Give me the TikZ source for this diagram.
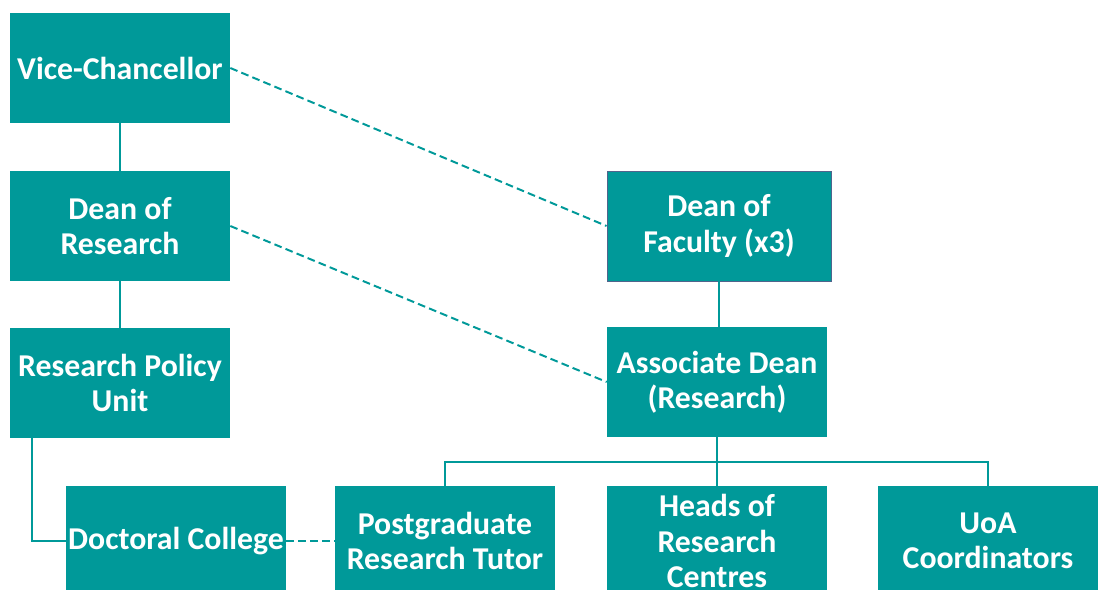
\documentclass[tikz,border=0pt]{standalone}
\usepackage{fontspec}
\setmainfont{Carlito}
\usepackage{tikz}
\usetikzlibrary{arrows,positioning,calc}
\definecolor{sarcelle}{RGB}{0,153,153}
\definecolor{bordure}{RGB}{80,100,140}

\begin{document}
\begin{tikzpicture}[x=0.025cm,y=-0.025cm]
\tikzstyle{boite}=[fill=sarcelle,text=white,inner sep=0pt,minimum width=5.5cm,minimum height=2.75cm,align=center,font=\bfseries\fontsize{22.6}{25}\selectfont]
\tikzstyle{lien}=[draw=sarcelle,line width=1.4pt]
\tikzstyle{pointille}=[draw=sarcelle,line width=1.4pt,dash pattern=on 5.5pt off 3pt]
\def\ColonneA{120}
\def\ColonneB{176}
\def\ColonneC{445}
\def\ColonneD{717}
\def\ColonneE{988}
\def\NiveauA{68}
\def\NiveauB{226}
\def\NiveauC{383}
\def\NiveauD{541}
\useasboundingbox (0,0) rectangle (1106,590);
\clip (0,0) rectangle (1106,590);
\node[boite] (VC) at (\ColonneA,\NiveauA) {Vice-Chancellor};
\node[boite] (DR) at (\ColonneA,\NiveauB) {Dean of\\Research};
\node[boite] (RPU) at (\ColonneA,\NiveauC) {Research Policy\\Unit};
\node[boite] (DC) at (\ColonneB,\NiveauD) {Doctoral College};
\node[boite,draw=bordure,line width=0.6pt,minimum width=5.6cm] (DF) at (\ColonneD+2,\NiveauB) {Dean of\\Faculty (x3)};
\node[boite] (AD) at (\ColonneD,\NiveauC-1) {Associate Dean\\(Research)};
\node[boite] (PRT) at (\ColonneC,\NiveauD) {Postgraduate\\Research Tutor};
\node[boite] (HRC) at (\ColonneD,\NiveauD) {Heads of\\Research\\Centres};
\node[boite] (UoA) at (\ColonneE,\NiveauD) {UoA\\Coordinators};
\coordinate (barre) at (\ColonneD,462);
\coordinate (coude) at ($(RPU.south west)+(22,0)$);
\draw[lien] (VC)--(DR);
\draw[lien] (DR)--(RPU);
\draw[lien] (coude) |- (DC.west);
\draw[pointille] (DC.east)--(PRT.west);
\draw[pointille] (VC.east)--(DF.west);
\draw[pointille] (DR.east)--(AD.west);
\draw[lien] (DF.south)--(DF.south|-AD.north);
\draw[lien] (AD.south)--(HRC.north);
\draw[lien] (PRT.north) |- (barre) -| (UoA.north);
\end{tikzpicture}
\end{document}
